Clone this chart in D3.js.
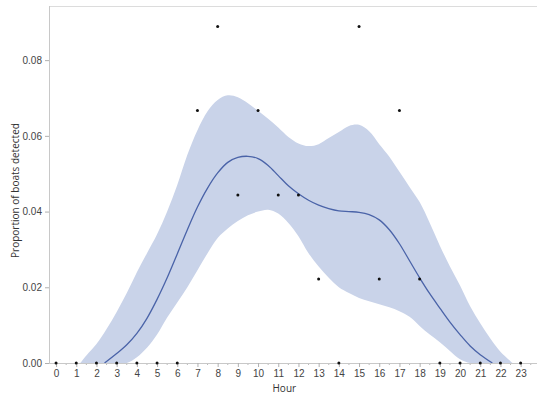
<!DOCTYPE html>
<html>
<head>
<meta charset="utf-8">
<script src="https://cdn.jsdelivr.net/npm/d3@7/dist/d3.min.js"></script>
<style>
  html, body { margin: 0; padding: 0; background: #fff; }
  svg { display: block; font-family: "Open Sans", "Noto Sans", sans-serif; }
</style>
</head>
<body>
<svg id="chart" width="537" height="398"></svg>
<script>
// Observed proportion of boats detected per hour of day
const hours = [0,1,2,3,4,5,6,7,8,9,10,11,12,13,14,15,16,17,18,19,20,21,22,23];
const proportions = [0,0,0,0,0,0,0,0.0667,0.0889,0.0444,0.0667,0.0444,0.0444,0.0222,0,0.0889,0.0222,0.0667,0.0222,0,0,0,0,0];

// Smoothed fit
const fitHours = [2.4,3,3.5,4,4.5,5,5.5,6,6.5,7,7.5,8,8.5,9,9.5,10,10.5,11,11.5,12,12.5,13,13.5,14,14.5,15,15.5,16,16.5,17,17.5,18,18.5,19,19.5,20,20.5,21,21.6];
const fitValues = [0,0.0025,0.0048,0.0078,0.0118,0.0168,0.0225,0.0288,0.0352,0.0412,0.0462,0.0502,0.0530,0.0543,0.0546,0.0540,0.0522,0.0495,0.0468,0.0447,0.0430,0.0417,0.0408,0.0402,0.0400,0.0398,0.0392,0.0378,0.0352,0.0315,0.0270,0.0225,0.0183,0.0145,0.0108,0.0075,0.0045,0.0022,0];

// Confidence band around the fit
const bandHours = [1.2,1.5,2,2.5,3,3.5,4,4.5,5,5.5,6,6.5,7,7.5,8,8.5,9,9.5,10,10.5,11,11.5,12,12.5,13,13.5,14,14.5,15,15.5,16,16.5,17,17.5,18,18.5,19,19.5,20,20.5,21,21.5,22,22.6];
const bandUpper = [0,0.002,0.005,0.009,0.0135,0.0185,0.024,0.029,0.034,0.040,0.047,0.055,0.0615,0.0665,0.0695,0.0707,0.0702,0.0686,0.0666,0.0645,0.0622,0.0597,0.0580,0.0573,0.0578,0.0594,0.061,0.0626,0.0629,0.0612,0.0578,0.0545,0.0505,0.0465,0.0425,0.037,0.031,0.0255,0.0205,0.015,0.0105,0.0065,0.003,0];
const bandLower = [0,0,0,0,0,0,0.0015,0.004,0.0075,0.012,0.016,0.020,0.0245,0.029,0.033,0.0355,0.0375,0.039,0.040,0.0405,0.0395,0.037,0.0335,0.029,0.0255,0.0225,0.020,0.0185,0.0172,0.0163,0.0155,0.0147,0.0137,0.0122,0.0098,0.0075,0.0055,0.0032,0.001,0,0,0,0,0];

const yTicks = [0, 0.02, 0.04, 0.06, 0.08];

const svg = d3.select("#chart");
const plotLeft = 49, plotRight = 537, plotTop = 6, plotBottom = 363;

const x = d3.scaleLinear().domain([-0.35, 23.81]).range([plotLeft, plotRight]);
const y = d3.scaleLinear().domain([0, 0.0943]).range([plotBottom, plotTop]);

const smooth = d3.curveCatmullRom.alpha(0.5);

// Band
const band = bandHours.map((h, i) => ({h, lo: bandLower[i], hi: bandUpper[i]}));
svg.append("path")
  .datum(band)
  .attr("fill", "#c9d3e9")
  .attr("d", d3.area()
    .x(d => x(d.h))
    .y0(d => Math.min(y(d.lo), plotBottom))
    .y1(d => y(d.hi))
    .curve(smooth));

// Fit line
const fit = fitHours.map((h, i) => ({h, v: fitValues[i]}));
svg.append("path")
  .datum(fit)
  .attr("fill", "none")
  .attr("stroke", "#4a63a8")
  .attr("stroke-width", 1.3)
  .attr("d", d3.line().x(d => x(d.h)).y(d => y(d.v)).curve(smooth));

// Frame: top border
svg.append("line")
  .attr("x1", plotLeft).attr("x2", plotRight)
  .attr("y1", plotTop + 0.5).attr("y2", plotTop + 0.5)
  .attr("stroke", "#dcdcdc").attr("stroke-width", 1);

// White strip below the baseline keeps the band from bleeding under the axis
svg.append("rect")
  .attr("x", plotLeft).attr("y", plotBottom + 0.5)
  .attr("width", plotRight - plotLeft).attr("height", 6)
  .attr("fill", "#fff");

// Y axis
const yAxis = svg.append("g")
  .attr("transform", `translate(${plotLeft},0)`)
  .call(d3.axisLeft(y).tickValues(yTicks).tickFormat(d3.format(".2f")).tickSize(4).tickPadding(3));
yAxis.select(".domain").attr("stroke", "#c8c8c8").attr("d", `M0.5,${plotTop}V${plotBottom}`);
yAxis.selectAll(".tick line").attr("stroke", "#b0b0b0");
yAxis.selectAll(".tick text").attr("fill", "#444").style("font-size", "10px");

// X axis: minor ticks at half hours
const minor = d3.range(-0.5, 24, 0.5).filter(v => v % 1 !== 0 && x(v) >= plotLeft);
svg.append("g").selectAll("line").data(minor).join("line")
  .attr("x1", d => x(d)).attr("x2", d => x(d))
  .attr("y1", plotBottom).attr("y2", plotBottom + 2)
  .attr("stroke", "#b8b8b8");

const xAxis = svg.append("g")
  .attr("transform", `translate(0,${plotBottom})`)
  .call(d3.axisBottom(x).tickValues(hours).tickFormat(d3.format("d")).tickSize(4).tickPadding(3));
xAxis.select(".domain").attr("stroke", "#c8c8c8").attr("d", `M${plotLeft},0.5H${plotRight}`);
xAxis.selectAll(".tick line").attr("stroke", "#b0b0b0");
xAxis.selectAll(".tick text").attr("fill", "#444").style("font-size", "10px");

// Observed points
svg.append("g").selectAll("circle").data(hours).join("circle")
  .attr("cx", (d) => x(d))
  .attr("cy", (d, i) => y(proportions[i]))
  .attr("r", 1.5)
  .attr("fill", "#111");

// Axis titles
svg.append("text")
  .attr("x", x(11.3)).attr("y", 392)
  .attr("text-anchor", "middle")
  .attr("fill", "#333").style("font-size", "10px")
  .text("Hour");

svg.append("text")
  .attr("transform", `translate(19,${(plotTop + plotBottom) / 2 + 6}) rotate(-90)`)
  .attr("text-anchor", "middle")
  .attr("fill", "#333").style("font-size", "10px")
  .text("Proportion of boats detected");
</script>
</body>
</html>
